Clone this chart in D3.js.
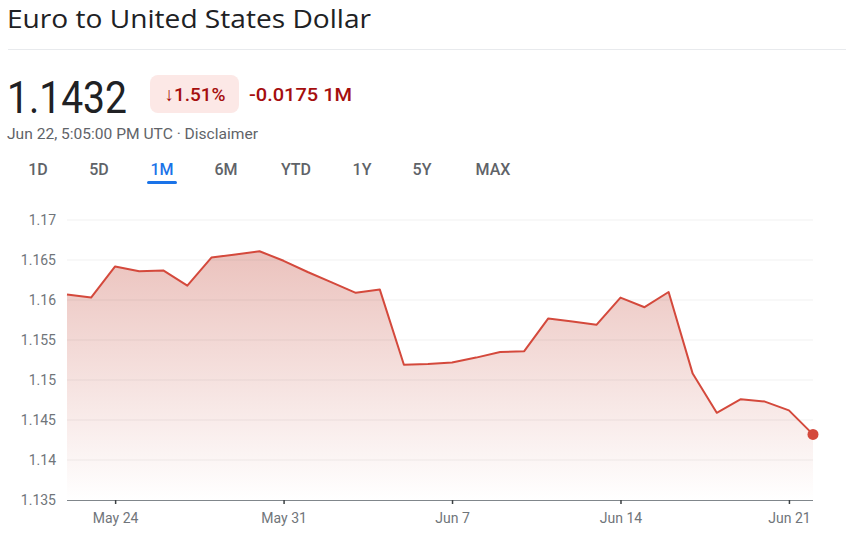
<!DOCTYPE html>
<html>
<head>
<meta charset="utf-8">
<script src="https://cdn.jsdelivr.net/npm/d3@7"></script>
<style>
  body { margin: 0; background: #fff; }
  svg { display: block; font-family: Roboto, "Noto Sans", sans-serif; }
</style>
</head>
<body>
<div id="chart"></div>
<script>
const dates = [
  "2025-05-22","2025-05-23","2025-05-24","2025-05-25","2025-05-26","2025-05-27","2025-05-28",
  "2025-05-29","2025-05-30","2025-05-31","2025-06-01","2025-06-02","2025-06-03","2025-06-04",
  "2025-06-05","2025-06-06","2025-06-07","2025-06-08","2025-06-09","2025-06-10","2025-06-11",
  "2025-06-12","2025-06-13","2025-06-14","2025-06-15","2025-06-16","2025-06-17","2025-06-18",
  "2025-06-19","2025-06-20","2025-06-21","2025-06-22"
];
const rates = [
  1.1607, 1.1603, 1.1642, 1.1636, 1.1637, 1.1618, 1.1653,
  1.1657, 1.1661, 1.1649, 1.1635, 1.1622, 1.1609, 1.1613,
  1.1519, 1.1520, 1.1522, 1.1528, 1.1535, 1.1536, 1.1577,
  1.1573, 1.1569, 1.1603, 1.1591, 1.1610, 1.1508, 1.1459,
  1.1476, 1.1473, 1.1462, 1.1432
];
const yTicks = [1.135, 1.14, 1.145, 1.15, 1.155, 1.16, 1.165, 1.17];
const xTickDates = ["2025-05-24","2025-05-31","2025-06-07","2025-06-14","2025-06-21"];
const tabs = ["1D","5D","1M","6M","YTD","1Y","5Y","MAX"];
const tabX = [38, 99, 162, 226, 296, 362, 422, 493];

const W = 847, H = 546;
const parse = d3.timeParse("%Y-%m-%d");
const data = dates.map((d, i) => ({ date: parse(d), value: rates[i] }));

const svg = d3.select("#chart").append("svg").attr("width", W).attr("height", H);

// header
svg.append("text").attr("x", 7).attr("y", 28)
  .attr("font-size", 26).attr("fill", "#202124")
  .attr("textLength", 364).attr("lengthAdjust", "spacingAndGlyphs")
  .style("font-family", "'Open Sans', Roboto, sans-serif")
  .text("Euro to United States Dollar");
svg.append("line").attr("x1", 8).attr("x2", 846).attr("y1", 49.5).attr("y2", 49.5)
  .attr("stroke", "#e8eaed");

svg.append("text").attr("x", 7).attr("y", 113)
  .attr("font-size", 45).attr("fill", "#202124")
  .attr("textLength", 120).attr("lengthAdjust", "spacingAndGlyphs")
  .text("1.1432");
svg.append("rect").attr("x", 150).attr("y", 75).attr("width", 89).attr("height", 38)
  .attr("rx", 8).attr("fill", "#fce8e6");
svg.append("text").attr("x", 195).attr("y", 101).attr("text-anchor", "middle")
  .attr("font-size", 19).attr("font-weight", 500).attr("fill", "#a50e0e").text("↓1.51%");
svg.append("text").attr("x", 249).attr("y", 101)
  .attr("font-size", 19).attr("font-weight", 500).attr("fill", "#a50e0e")
  .attr("textLength", 103).attr("lengthAdjust", "spacingAndGlyphs")
  .text("-0.0175 1M");
svg.append("text").attr("x", 7).attr("y", 139)
  .attr("font-size", 15).attr("fill", "#5f6368")
  .attr("textLength", 251).attr("lengthAdjust", "spacingAndGlyphs")
  .text("Jun 22, 5:05:00 PM UTC · Disclaimer");

svg.selectAll("text.tab").data(tabs).enter().append("text")
  .attr("class", "tab")
  .attr("x", (d, i) => tabX[i]).attr("y", 175)
  .attr("text-anchor", "middle").attr("font-size", 16).attr("font-weight", 500)
  .attr("fill", d => d === "1M" ? "#1a73e8" : "#5f6368")
  .text(d => d);
svg.append("rect").attr("x", 147).attr("y", 181).attr("width", 30).attr("height", 3)
  .attr("rx", 1.5).attr("fill", "#1a73e8");

// chart
const x = d3.scaleTime()
  .domain([parse("2025-05-22"), parse("2025-06-22")])
  .range([67, 813]);
const y = d3.scaleLinear().domain([1.135, 1.17]).range([500, 220]);

const grad = svg.append("defs").append("linearGradient")
  .attr("id", "fade").attr("gradientUnits", "userSpaceOnUse")
  .attr("x1", 0).attr("x2", 0).attr("y1", y(d3.max(rates))).attr("y2", y(1.135));
grad.append("stop").attr("offset", "0%").attr("stop-color", "#ebc2bd");
grad.append("stop").attr("offset", "100%").attr("stop-color", "#ffffff");

svg.append("path").datum(data)
  .attr("fill", "url(#fade)")
  .attr("d", d3.area().x(d => x(d.date)).y0(y(1.135)).y1(d => y(d.value)));

svg.append("g").selectAll("line").data(yTicks.slice(1)).enter().append("line")
  .attr("x1", 67).attr("x2", 813)
  .attr("y1", d => y(d)).attr("y2", d => y(d))
  .attr("stroke", "rgba(60,64,67,0.07)");

svg.append("g").selectAll("text").data(yTicks).enter().append("text")
  .attr("x", 56).attr("y", d => y(d)).attr("dy", "0.35em")
  .attr("text-anchor", "end").attr("font-size", 14).attr("fill", "#70757a")
  .text(d => d3.format("")(d));

svg.append("path").datum(data)
  .attr("fill", "none").attr("stroke", "#d4493c").attr("stroke-width", 2)
  .attr("stroke-linejoin", "round")
  .attr("d", d3.line().x(d => x(d.date)).y(d => y(d.value)));

const xAxis = svg.append("g").attr("transform", `translate(0,${y(1.135)})`)
  .call(d3.axisBottom(x).tickValues(xTickDates.map(parse))
    .tickFormat(d3.timeFormat("%b %-d")).tickSize(4).tickPadding(9));
xAxis.select(".domain").attr("stroke", "#80868b").attr("d", `M67,0.5H813`);
xAxis.selectAll(".tick line").attr("stroke", "#3c4043").attr("stroke-width", 1.5);
xAxis.selectAll(".tick text").attr("font-size", 14).attr("fill", "#70757a")
  .style("font-family", "Roboto, sans-serif");

const last = data[data.length - 1];
svg.append("circle").attr("cx", x(last.date)).attr("cy", y(last.value))
  .attr("r", 5.5).attr("fill", "#d4493c");
</script>
</body>
</html>
